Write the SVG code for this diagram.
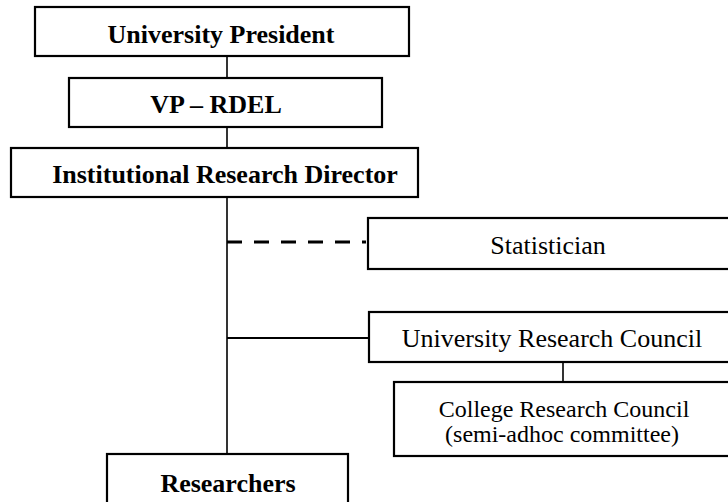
<svg xmlns="http://www.w3.org/2000/svg" width="728" height="502" viewBox="0 0 728 502">
<style>
.box{fill:#fff;stroke:#000;stroke-width:2.2}
.t{font-family:"Liberation Serif","Times New Roman",serif;fill:#000;text-anchor:middle}
.b{font-weight:bold;font-size:26px}
.n{font-size:26px}
.s{font-size:24px}
.c{stroke:#000;stroke-width:1.6;fill:none}
.d{stroke:#000;stroke-width:3;fill:none;stroke-dasharray:15 12}
</style>
<rect width="728" height="502" fill="#fff"/>
<g id="connectors">
<line class="c" x1="227" y1="56" x2="227" y2="78"/>
<line class="c" x1="227" y1="127" x2="227" y2="148"/>
<line class="c" x1="227" y1="197" x2="227" y2="454"/>
<line class="d" x1="227" y1="242" x2="366" y2="242"/>
<line class="c" x1="227" y1="338" x2="369" y2="338" style="stroke-width:2"/>
<line class="c" x1="563" y1="362" x2="563" y2="382"/>
</g>
<g id="president">
<rect class="box" x="35" y="7" width="374" height="49"/>
<text class="t b" x="221" y="43">University President</text>
</g>
<g id="vp">
<rect class="box" x="69" y="78" width="313" height="49"/>
<text class="t b" x="216" y="113">VP – RDEL</text>
</g>
<g id="director">
<rect class="box" x="11" y="148" width="407" height="49"/>
<text class="t b" x="225" y="183">Institutional Research Director</text>
</g>
<g id="statistician">
<rect class="box" x="368" y="218" width="380" height="51"/>
<text class="t n" x="548" y="254">Statistician</text>
</g>
<g id="urc">
<rect class="box" x="369" y="312" width="380" height="50"/>
<text class="t n" x="552" y="347">University Research Council</text>
</g>
<g id="crc">
<rect class="box" x="394" y="382" width="354" height="74"/>
<text class="t s" x="564" y="417">College Research Council</text>
<text class="t s" x="562" y="442">(semi-adhoc committee)</text>
</g>
<g id="researchers">
<rect class="box" x="107" y="454" width="241" height="60"/>
<text class="t b" x="228" y="492">Researchers</text>
</g>
</svg>
